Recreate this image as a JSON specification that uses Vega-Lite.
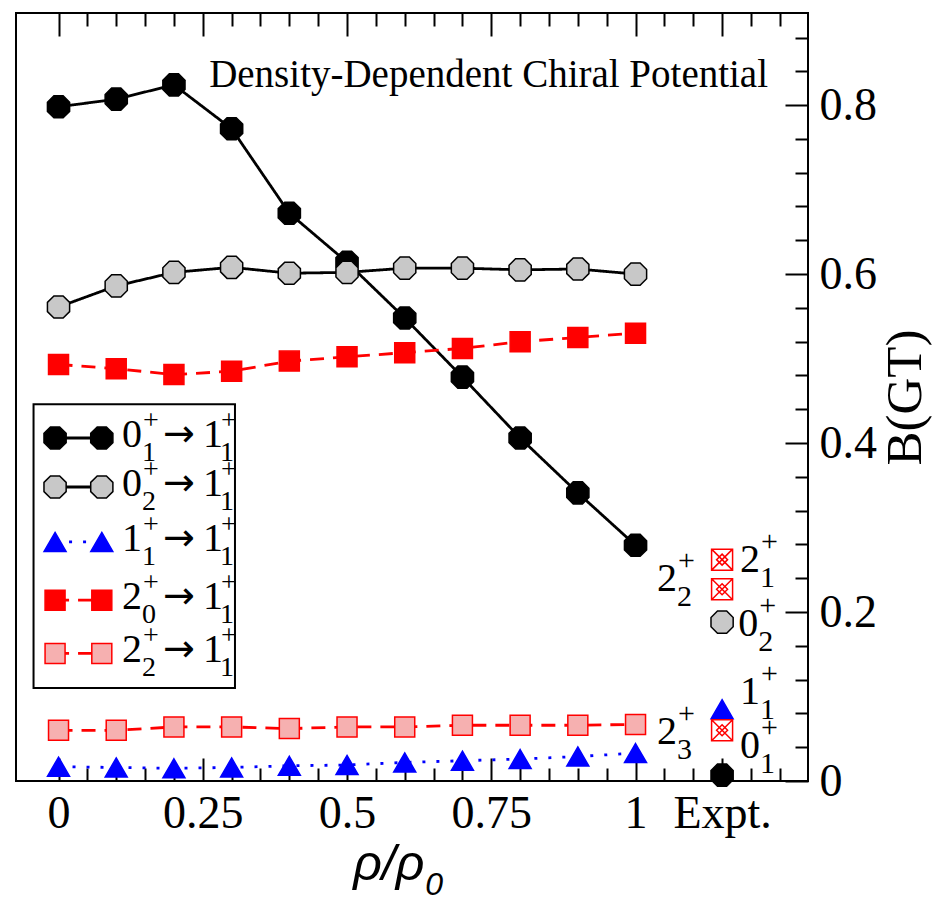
{
  "$schema": "https://vega.github.io/schema/vega-lite/v6.json",
  "width": 792,
  "height": 768,
  "autosize": {"type": "none"},
  "padding": {"left": 16, "top": 13, "right": 143, "bottom": 124},
  "background": "white",
  "config": {
    "view": {"stroke": "black", "strokeWidth": 2},
    "axis": {"domain": false, "grid": false, "labelFont": "Liberation Serif", "titleFont": "Liberation Serif", "labelColor": "black", "titleColor": "black", "tickColor": "black", "tickWidth": 2, "titleFontWeight": "normal"},
    "text": {"font": "Liberation Serif", "color": "black"}
  },
  "datasets": {
    "model": [
      {"rho": 0, "B": 0.798, "series": "01"}, {"rho": 0.1, "B": 0.807, "series": "01"}, {"rho": 0.2, "B": 0.824, "series": "01"}, {"rho": 0.3, "B": 0.772, "series": "01"}, {"rho": 0.4, "B": 0.672, "series": "01"}, {"rho": 0.5, "B": 0.614, "series": "01"}, {"rho": 0.6, "B": 0.548, "series": "01"}, {"rho": 0.7, "B": 0.478, "series": "01"}, {"rho": 0.8, "B": 0.406, "series": "01"}, {"rho": 0.9, "B": 0.341, "series": "01"}, {"rho": 1.0, "B": 0.279, "series": "01"},
      {"rho": 0, "B": 0.561, "series": "02"}, {"rho": 0.1, "B": 0.586, "series": "02"}, {"rho": 0.2, "B": 0.602, "series": "02"}, {"rho": 0.3, "B": 0.608, "series": "02"}, {"rho": 0.4, "B": 0.601, "series": "02"}, {"rho": 0.5, "B": 0.602, "series": "02"}, {"rho": 0.6, "B": 0.607, "series": "02"}, {"rho": 0.7, "B": 0.607, "series": "02"}, {"rho": 0.8, "B": 0.605, "series": "02"}, {"rho": 0.9, "B": 0.606, "series": "02"}, {"rho": 1.0, "B": 0.600, "series": "02"},
      {"rho": 0, "B": 0.017, "series": "11"}, {"rho": 0.1, "B": 0.016, "series": "11"}, {"rho": 0.2, "B": 0.015, "series": "11"}, {"rho": 0.3, "B": 0.016, "series": "11"}, {"rho": 0.4, "B": 0.018, "series": "11"}, {"rho": 0.5, "B": 0.019, "series": "11"}, {"rho": 0.6, "B": 0.022, "series": "11"}, {"rho": 0.7, "B": 0.024, "series": "11"}, {"rho": 0.8, "B": 0.026, "series": "11"}, {"rho": 0.9, "B": 0.029, "series": "11"}, {"rho": 1.0, "B": 0.033, "series": "11"},
      {"rho": 0, "B": 0.493, "series": "20"}, {"rho": 0.1, "B": 0.488, "series": "20"}, {"rho": 0.2, "B": 0.481, "series": "20"}, {"rho": 0.3, "B": 0.485, "series": "20"}, {"rho": 0.4, "B": 0.497, "series": "20"}, {"rho": 0.5, "B": 0.502, "series": "20"}, {"rho": 0.6, "B": 0.507, "series": "20"}, {"rho": 0.7, "B": 0.512, "series": "20"}, {"rho": 0.8, "B": 0.520, "series": "20"}, {"rho": 0.9, "B": 0.525, "series": "20"}, {"rho": 1.0, "B": 0.530, "series": "20"},
      {"rho": 0, "B": 0.060, "series": "22"}, {"rho": 0.1, "B": 0.060, "series": "22"}, {"rho": 0.2, "B": 0.064, "series": "22"}, {"rho": 0.3, "B": 0.064, "series": "22"}, {"rho": 0.4, "B": 0.062, "series": "22"}, {"rho": 0.5, "B": 0.064, "series": "22"}, {"rho": 0.6, "B": 0.064, "series": "22"}, {"rho": 0.7, "B": 0.066, "series": "22"}, {"rho": 0.8, "B": 0.066, "series": "22"}, {"rho": 0.9, "B": 0.066, "series": "22"}, {"rho": 1.0, "B": 0.067, "series": "22"}
    ],
    "expt": [
      {"rho": 1.15, "B": 0.262, "series": "x"},
      {"rho": 1.15, "B": 0.227, "series": "x"},
      {"rho": 1.15, "B": 0.188, "series": "02"},
      {"rho": 1.15, "B": 0.085, "series": "11"},
      {"rho": 1.15, "B": 0.060, "series": "x"},
      {"rho": 1.15, "B": 0.007, "series": "01"}
    ],
    "elab": [
      {"x": 1.037, "y": 0.239, "base": "2", "sub": "2"},
      {"x": 1.181, "y": 0.262, "base": "2", "sub": "1"},
      {"x": 1.178, "y": 0.186, "base": "0", "sub": "2"},
      {"x": 1.181, "y": 0.105, "base": "1", "sub": "1"},
      {"x": 1.181, "y": 0.041, "base": "0", "sub": "1"},
      {"x": 1.037, "y": 0.058, "base": "2", "sub": "3"}
    ],
    "legend": [
      {"series": "01", "y": 0.406, "a": "0", "as": "1"},
      {"series": "02", "y": 0.348, "a": "0", "as": "2"},
      {"series": "11", "y": 0.283, "a": "1", "as": "1"},
      {"series": "20", "y": 0.214, "a": "2", "as": "0"},
      {"series": "22", "y": 0.151, "a": "2", "as": "2"}
    ],
    "note": [
      {"x": 1.2296, "y": 0.8355, "text": "Density-Dependent Chiral Potential"}
    ],
    "xtitle": [
      {"x": 0.634, "y": -0.1172, "t": "ρ/ρ", "s": "0"}
    ]
  },
  "resolve": {"axis": {"x": "independent", "y": "independent"}},
  "layer": [
    {
      "data": {"name": "model"},
      "mark": {"type": "line", "strokeWidth": 2.8, "strokeCap": "butt"},
      "encoding": {
        "x": {"field": "rho", "type": "quantitative", "scale": {"domain": [-0.0737, 1.2989], "nice": false, "zero": false},
          "axis": {"orient": "bottom", "values": [0, 0.25, 0.5, 0.75, 1, 1.15], "labelExpr": "datum.value == 1.15 ? 'Expt.' : format(datum.value, '~g')", "ticks": false, "labelFontSize": 46, "labelPadding": 10, "labelFlush": false, "labelOverlap": false, "title": null}},
        "y": {"field": "B", "type": "quantitative", "scale": {"domain": [0, 0.909], "nice": false, "zero": false},
          "axis": {"orient": "right", "values": [0, 0.2, 0.4, 0.6, 0.8], "format": "~g", "ticks": false, "labelFontSize": 46, "labelPadding": 11, "labelFlush": false, "labelOverlap": false, "title": "B(GT)", "titleFontSize": 51, "titleAngle": 270, "titleBaseline": "top", "titlePadding": 4}},
        "stroke": {"field": "series", "type": "nominal", "scale": {"domain": ["01", "02", "11", "20", "22", "x"], "range": ["#000000", "#000000", "#0000ff", "#ff0000", "#ff0000", "#ff0000"]}, "legend": null},
        "strokeDash": {"field": "series", "type": "nominal", "scale": {"domain": ["01", "02", "11", "20", "22", "x"], "range": [[1, 0], [1, 0], [3, 11], [14, 9], [14, 9], [1, 0]]}, "legend": null}
      }
    },
    {
      "data": {"name": "legend"},
      "mark": {"type": "rule", "strokeWidth": 2.8, "strokeCap": "butt"},
      "encoding": {
        "x": {"datum": -0.006, "type": "quantitative", "scale": {"domain": [-0.0737, 1.2989], "nice": false, "zero": false},
          "axis": {"orient": "bottom", "values": [0, 0.25, 0.5, 0.75, 1, 1.15], "labels": false, "tickSize": -23, "title": null}},
        "x2": {"datum": 0.075},
        "y": {"field": "y", "type": "quantitative", "scale": {"domain": [0, 0.909], "nice": false, "zero": false},
          "axis": {"orient": "right", "values": [0, 0.2, 0.4, 0.6, 0.8], "labels": false, "tickSize": -23, "title": null}},
        "stroke": {"field": "series", "type": "nominal", "scale": {"domain": ["01", "02", "11", "20", "22", "x"], "range": ["#000000", "#000000", "#0000ff", "#ff0000", "#ff0000", "#ff0000"]}, "legend": null},
        "strokeDash": {"field": "series", "type": "nominal", "scale": {"domain": ["01", "02", "11", "20", "22", "x"], "range": [[1, 0], [1, 0], [3, 11], [14, 9], [14, 9], [1, 0]]}, "legend": null}
      }
    },
    {
      "data": {"name": "model"},
      "mark": {"type": "point", "filled": true, "size": 400, "strokeWidth": 1.5, "opacity": 1},
      "encoding": {
        "x": {"field": "rho", "type": "quantitative", "scale": {"domain": [-0.0737, 1.2989], "nice": false, "zero": false},
          "axis": {"orient": "bottom", "values": [0.05, 0.1, 0.15, 0.2, 0.3, 0.35, 0.4, 0.45, 0.55, 0.6, 0.65, 0.7, 0.8, 0.85, 0.9, 0.95, 1.05, 1.1, 1.2, 1.25], "labels": false, "tickSize": -13, "title": null}},
        "y": {"field": "B", "type": "quantitative", "scale": {"domain": [0, 0.909], "nice": false, "zero": false},
          "axis": {"orient": "right", "values": [0.04, 0.08, 0.12, 0.16, 0.24, 0.28, 0.32, 0.36, 0.44, 0.48, 0.52, 0.56, 0.64, 0.68, 0.72, 0.76, 0.84, 0.88], "labels": false, "tickSize": -13, "title": null}},
        "shape": {"field": "series", "type": "nominal", "scale": {"domain": ["01", "02", "11", "20", "22", "x"], "range": ["M-0.459,-1.109L0.459,-1.109L1.109,-0.459L1.109,0.459L0.459,1.109L-0.459,1.109L-1.109,0.459L-1.109,-0.459Z", "M-0.459,-1.109L0.459,-1.109L1.109,-0.459L1.109,0.459L0.459,1.109L-0.459,1.109L-1.109,0.459L-1.109,-0.459Z", "M0,-0.95L1.1,0.95L-1.1,0.95Z", "M-1,-1L1,-1L1,1L-1,1Z", "M-1,-1L1,-1L1,1L-1,1Z", "M-1.05,-1.05L1.05,-1.05L1.05,1.05L-1.05,1.05Z M-1.05,-1.05L1.05,1.05 M1.05,-1.05L-1.05,1.05 M0,-0.55L0.55,0L0,0.55L-0.55,0Z"]}, "legend": null},
        "fill": {"field": "series", "type": "nominal", "scale": {"domain": ["01", "02", "11", "20", "22", "x"], "range": ["#000000", "#c8c8c8", "#0000ff", "#ff0000", "#f6b0b0", "#ffffff"]}, "legend": null},
        "stroke": {"field": "series", "type": "nominal", "scale": {"domain": ["01", "02", "11", "20", "22", "x"], "range": ["#000000", "#000000", "#0000ff", "#ff0000", "#ff0000", "#ff0000"]}, "legend": null}
      }
    },
    {
      "data": {"name": "expt"},
      "mark": {"type": "point", "filled": true, "size": 400, "strokeWidth": 1.5, "opacity": 1},
      "encoding": {
        "x": {"field": "rho", "type": "quantitative", "scale": {"domain": [-0.0737, 1.2989], "nice": false, "zero": false},
          "axis": {"orient": "top", "values": [0, 0.25, 0.5, 0.75, 1, 1.15], "labels": false, "tickSize": -23, "title": null}},
        "y": {"field": "B", "type": "quantitative", "scale": {"domain": [0, 0.909], "nice": false, "zero": false}, "axis": null},
        "shape": {"field": "series", "type": "nominal", "scale": {"domain": ["01", "02", "11", "20", "22", "x"], "range": ["M-0.459,-1.109L0.459,-1.109L1.109,-0.459L1.109,0.459L0.459,1.109L-0.459,1.109L-1.109,0.459L-1.109,-0.459Z", "M-0.459,-1.109L0.459,-1.109L1.109,-0.459L1.109,0.459L0.459,1.109L-0.459,1.109L-1.109,0.459L-1.109,-0.459Z", "M0,-0.95L1.1,0.95L-1.1,0.95Z", "M-1,-1L1,-1L1,1L-1,1Z", "M-1,-1L1,-1L1,1L-1,1Z", "M-1.05,-1.05L1.05,-1.05L1.05,1.05L-1.05,1.05Z M-1.05,-1.05L1.05,1.05 M1.05,-1.05L-1.05,1.05 M0,-0.55L0.55,0L0,0.55L-0.55,0Z"]}, "legend": null},
        "fill": {"field": "series", "type": "nominal", "scale": {"domain": ["01", "02", "11", "20", "22", "x"], "range": ["#000000", "#c8c8c8", "#0000ff", "#ff0000", "#f6b0b0", "#ffffff"]}, "legend": null},
        "stroke": {"field": "series", "type": "nominal", "scale": {"domain": ["01", "02", "11", "20", "22", "x"], "range": ["#000000", "#000000", "#0000ff", "#ff0000", "#ff0000", "#ff0000"]}, "legend": null}
      }
    },
    {
      "data": {"name": "legend"},
      "mark": {"type": "point", "filled": true, "size": 400, "strokeWidth": 1.5, "opacity": 1},
      "encoding": {
        "x": {"datum": -0.006, "type": "quantitative", "scale": {"domain": [-0.0737, 1.2989], "nice": false, "zero": false},
          "axis": {"orient": "top", "values": [0.05, 0.1, 0.15, 0.2, 0.3, 0.35, 0.4, 0.45, 0.55, 0.6, 0.65, 0.7, 0.8, 0.85, 0.9, 0.95, 1.05, 1.1, 1.2, 1.25], "labels": false, "tickSize": -13, "title": null}},
        "y": {"field": "y", "type": "quantitative", "scale": {"domain": [0, 0.909], "nice": false, "zero": false}, "axis": null},
        "shape": {"field": "series", "type": "nominal", "scale": {"domain": ["01", "02", "11", "20", "22", "x"], "range": ["M-0.459,-1.109L0.459,-1.109L1.109,-0.459L1.109,0.459L0.459,1.109L-0.459,1.109L-1.109,0.459L-1.109,-0.459Z", "M-0.459,-1.109L0.459,-1.109L1.109,-0.459L1.109,0.459L0.459,1.109L-0.459,1.109L-1.109,0.459L-1.109,-0.459Z", "M0,-0.95L1.1,0.95L-1.1,0.95Z", "M-1,-1L1,-1L1,1L-1,1Z", "M-1,-1L1,-1L1,1L-1,1Z", "M-1.05,-1.05L1.05,-1.05L1.05,1.05L-1.05,1.05Z M-1.05,-1.05L1.05,1.05 M1.05,-1.05L-1.05,1.05 M0,-0.55L0.55,0L0,0.55L-0.55,0Z"]}, "legend": null},
        "fill": {"field": "series", "type": "nominal", "scale": {"domain": ["01", "02", "11", "20", "22", "x"], "range": ["#000000", "#c8c8c8", "#0000ff", "#ff0000", "#f6b0b0", "#ffffff"]}, "legend": null},
        "stroke": {"field": "series", "type": "nominal", "scale": {"domain": ["01", "02", "11", "20", "22", "x"], "range": ["#000000", "#000000", "#0000ff", "#ff0000", "#ff0000", "#ff0000"]}, "legend": null}
      }
    },
    {
      "data": {"name": "legend"},
      "mark": {"type": "point", "filled": true, "size": 400, "strokeWidth": 1.5, "opacity": 1},
      "encoding": {
        "x": {"datum": 0.075, "type": "quantitative", "scale": {"domain": [-0.0737, 1.2989], "nice": false, "zero": false}, "axis": null},
        "y": {"field": "y", "type": "quantitative", "scale": {"domain": [0, 0.909], "nice": false, "zero": false}, "axis": null},
        "shape": {"field": "series", "type": "nominal", "scale": {"domain": ["01", "02", "11", "20", "22", "x"], "range": ["M-0.459,-1.109L0.459,-1.109L1.109,-0.459L1.109,0.459L0.459,1.109L-0.459,1.109L-1.109,0.459L-1.109,-0.459Z", "M-0.459,-1.109L0.459,-1.109L1.109,-0.459L1.109,0.459L0.459,1.109L-0.459,1.109L-1.109,0.459L-1.109,-0.459Z", "M0,-0.95L1.1,0.95L-1.1,0.95Z", "M-1,-1L1,-1L1,1L-1,1Z", "M-1,-1L1,-1L1,1L-1,1Z", "M-1.05,-1.05L1.05,-1.05L1.05,1.05L-1.05,1.05Z M-1.05,-1.05L1.05,1.05 M1.05,-1.05L-1.05,1.05 M0,-0.55L0.55,0L0,0.55L-0.55,0Z"]}, "legend": null},
        "fill": {"field": "series", "type": "nominal", "scale": {"domain": ["01", "02", "11", "20", "22", "x"], "range": ["#000000", "#c8c8c8", "#0000ff", "#ff0000", "#f6b0b0", "#ffffff"]}, "legend": null},
        "stroke": {"field": "series", "type": "nominal", "scale": {"domain": ["01", "02", "11", "20", "22", "x"], "range": ["#000000", "#000000", "#0000ff", "#ff0000", "#ff0000", "#ff0000"]}, "legend": null}
      }
    },
    {
      "data": {"values": [{}]},
      "mark": {"type": "rect", "fill": null, "stroke": "black", "strokeWidth": 2},
      "encoding": {
        "x": {"datum": -0.0433, "type": "quantitative", "scale": {"domain": [-0.0737, 1.2989], "nice": false, "zero": false}, "axis": null},
        "x2": {"datum": 0.3058},
        "y": {"datum": 0.446, "type": "quantitative", "scale": {"domain": [0, 0.909], "nice": false, "zero": false}, "axis": null},
        "y2": {"datum": 0.110}
      }
    },
    {
      "data": {"name": "note"},
      "mark": {"type": "text", "font": "Liberation Serif", "fontSize": 39, "align": "right", "baseline": "middle"},
      "encoding": {
        "x": {"field": "x", "type": "quantitative", "scale": {"domain": [-0.0737, 1.2989], "nice": false, "zero": false}, "axis": null},
        "y": {"field": "y", "type": "quantitative", "scale": {"domain": [0, 0.909], "nice": false, "zero": false}, "axis": null},
        "text": {"field": "text"}
      }
    },
    {
      "data": {"name": "xtitle"},
      "mark": {"type": "text", "font": "Liberation Sans", "fontStyle": "italic", "fontSize": 50, "align": "right", "baseline": "alphabetic"},
      "encoding": {
        "x": {"field": "x", "type": "quantitative", "scale": {"domain": [-0.0737, 1.2989], "nice": false, "zero": false}, "axis": null},
        "y": {"field": "y", "type": "quantitative", "scale": {"domain": [0, 0.909], "nice": false, "zero": false}, "axis": null},
        "text": {"field": "t"}
      }
    },
    {
      "data": {"name": "xtitle"},
      "mark": {"type": "text", "font": "Liberation Sans", "fontStyle": "italic", "fontSize": 32, "align": "left", "baseline": "alphabetic", "dx": 1, "dy": 15},
      "encoding": {
        "x": {"field": "x", "type": "quantitative", "scale": {"domain": [-0.0737, 1.2989], "nice": false, "zero": false}, "axis": null},
        "y": {"field": "y", "type": "quantitative", "scale": {"domain": [0, 0.909], "nice": false, "zero": false}, "axis": null},
        "text": {"field": "s"}
      }
    },
    {
      "data": {"name": "elab"},
      "mark": {"type": "text", "font": "Liberation Serif", "fontSize": 40, "align": "left", "baseline": "middle"},
      "encoding": {
        "x": {"field": "x", "type": "quantitative", "scale": {"domain": [-0.0737, 1.2989], "nice": false, "zero": false}, "axis": null},
        "y": {"field": "y", "type": "quantitative", "scale": {"domain": [0, 0.909], "nice": false, "zero": false}, "axis": null},
        "text": {"field": "base"}
      }
    },
    {
      "data": {"name": "elab"},
      "mark": {"type": "text", "font": "Liberation Serif", "text": "+", "fontSize": 30, "align": "left", "baseline": "middle", "dx": 21, "dy": -18},
      "encoding": {
        "x": {"field": "x", "type": "quantitative", "scale": {"domain": [-0.0737, 1.2989], "nice": false, "zero": false}, "axis": null},
        "y": {"field": "y", "type": "quantitative", "scale": {"domain": [0, 0.909], "nice": false, "zero": false}, "axis": null}
      }
    },
    {
      "data": {"name": "elab"},
      "mark": {"type": "text", "font": "Liberation Serif", "fontSize": 30, "align": "left", "baseline": "middle", "dx": 20, "dy": 18},
      "encoding": {
        "x": {"field": "x", "type": "quantitative", "scale": {"domain": [-0.0737, 1.2989], "nice": false, "zero": false}, "axis": null},
        "y": {"field": "y", "type": "quantitative", "scale": {"domain": [0, 0.909], "nice": false, "zero": false}, "axis": null},
        "text": {"field": "sub"}
      }
    },
    {
      "data": {"name": "legend"},
      "mark": {"type": "text", "font": "Liberation Serif", "fontSize": 40, "align": "left", "baseline": "middle", "dy": -3},
      "encoding": {
        "x": {"datum": 0.1101, "type": "quantitative", "scale": {"domain": [-0.0737, 1.2989], "nice": false, "zero": false}, "axis": null},
        "y": {"field": "y", "type": "quantitative", "scale": {"domain": [0, 0.909], "nice": false, "zero": false}, "axis": null},
        "text": {"field": "a"}
      }
    },
    {
      "data": {"name": "legend"},
      "mark": {"type": "text", "font": "Liberation Serif", "text": "+", "fontSize": 28, "align": "left", "baseline": "middle", "dx": 21, "dy": -17},
      "encoding": {
        "x": {"datum": 0.1101, "type": "quantitative", "scale": {"domain": [-0.0737, 1.2989], "nice": false, "zero": false}, "axis": null},
        "y": {"field": "y", "type": "quantitative", "scale": {"domain": [0, 0.909], "nice": false, "zero": false}, "axis": null}
      }
    },
    {
      "data": {"name": "legend"},
      "mark": {"type": "text", "font": "Liberation Serif", "fontSize": 28, "align": "left", "baseline": "middle", "dx": 20, "dy": 15},
      "encoding": {
        "x": {"datum": 0.1101, "type": "quantitative", "scale": {"domain": [-0.0737, 1.2989], "nice": false, "zero": false}, "axis": null},
        "y": {"field": "y", "type": "quantitative", "scale": {"domain": [0, 0.909], "nice": false, "zero": false}, "axis": null},
        "text": {"field": "as"}
      }
    },
    {
      "data": {"name": "legend"},
      "mark": {"type": "text", "font": "DejaVu Sans", "text": "→", "fontSize": 38, "align": "left", "baseline": "middle", "dx": 41, "dy": -3},
      "encoding": {
        "x": {"datum": 0.1101, "type": "quantitative", "scale": {"domain": [-0.0737, 1.2989], "nice": false, "zero": false}, "axis": null},
        "y": {"field": "y", "type": "quantitative", "scale": {"domain": [0, 0.909], "nice": false, "zero": false}, "axis": null}
      }
    },
    {
      "data": {"name": "legend"},
      "mark": {"type": "text", "font": "Liberation Serif", "text": "1", "fontSize": 40, "align": "left", "baseline": "middle", "dx": 81, "dy": -3},
      "encoding": {
        "x": {"datum": 0.1101, "type": "quantitative", "scale": {"domain": [-0.0737, 1.2989], "nice": false, "zero": false}, "axis": null},
        "y": {"field": "y", "type": "quantitative", "scale": {"domain": [0, 0.909], "nice": false, "zero": false}, "axis": null}
      }
    },
    {
      "data": {"name": "legend"},
      "mark": {"type": "text", "font": "Liberation Serif", "text": "+", "fontSize": 28, "align": "left", "baseline": "middle", "dx": 99, "dy": -17},
      "encoding": {
        "x": {"datum": 0.1101, "type": "quantitative", "scale": {"domain": [-0.0737, 1.2989], "nice": false, "zero": false}, "axis": null},
        "y": {"field": "y", "type": "quantitative", "scale": {"domain": [0, 0.909], "nice": false, "zero": false}, "axis": null}
      }
    },
    {
      "data": {"name": "legend"},
      "mark": {"type": "text", "font": "Liberation Serif", "text": "1", "fontSize": 28, "align": "left", "baseline": "middle", "dx": 98, "dy": 15},
      "encoding": {
        "x": {"datum": 0.1101, "type": "quantitative", "scale": {"domain": [-0.0737, 1.2989], "nice": false, "zero": false}, "axis": null},
        "y": {"field": "y", "type": "quantitative", "scale": {"domain": [0, 0.909], "nice": false, "zero": false}, "axis": null}
      }
    }
  ]
}
